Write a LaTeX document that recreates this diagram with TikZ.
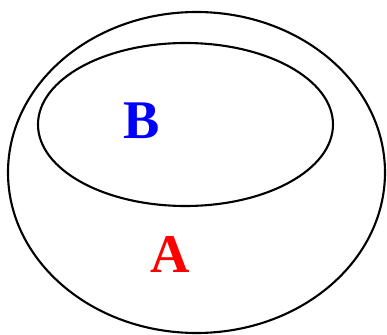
\documentclass[tikz,border=0pt]{standalone}
\usepackage{fontspec}
\setmainfont{Liberation Serif}
\usetikzlibrary{positioning}

\begin{document}
\begin{tikzpicture}[
    x=0.02cm, y=-0.02cm,
    set/.style={draw=black, line width=1.2pt},
    setlabel/.style={font=\fontsize{31}{31}\selectfont\bfseries, inner sep=0pt}
]
    \useasboundingbox (0,0) rectangle (387,335);
    % the two sets
    \draw[set] (196.5,172.5) ellipse [x radius=188.5, y radius=160.5];
    \draw[set] (185.5,124.5) ellipse [x radius=147.5, y radius=81.5];
    \node[setlabel, text=blue] (b) at (142,121) {B};
    \node[setlabel, text=red] (a) at (170.5,255) {A};
\end{tikzpicture}
\end{document}
